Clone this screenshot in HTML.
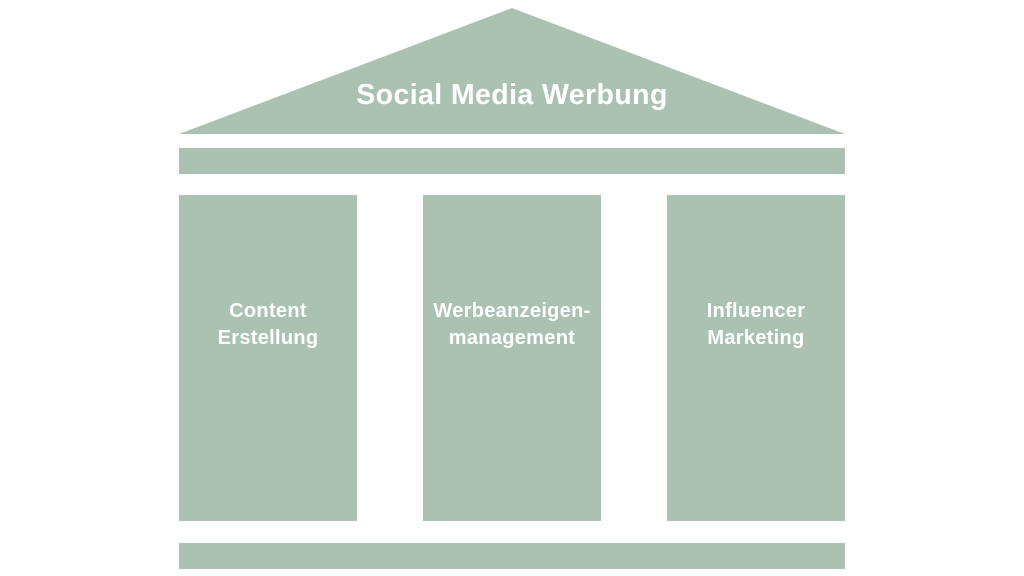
<!DOCTYPE html>
<html><head><style>
body{margin:0;width:1024px;height:576px;background:#fff;position:relative;overflow:hidden;font-family:"Liberation Sans",sans-serif}
.b{position:absolute;background:#abc2b2}
.t{position:absolute;color:#fff;font-weight:bold;text-align:center;font-size:20px;letter-spacing:0.3px;line-height:27px;display:flex;align-items:center;justify-content:center}
</style></head><body>
<svg width="1024" height="576" style="position:absolute;left:0;top:0"><polygon points="512,8 845,134 179,134" fill="#abc2b2"/></svg>
<div class="t" style="left:179px;width:666px;top:77px;height:36px;font-size:28.5px;letter-spacing:0.4px">Social Media Werbung</div>
<div class="b" style="left:179px;top:148px;width:666px;height:26px"></div>
<div class="b" style="left:179px;top:195px;width:178px;height:326px"></div>
<div class="b" style="left:423px;top:195px;width:178px;height:326px"></div>
<div class="b" style="left:667px;top:195px;width:178px;height:326px"></div>
<div class="b" style="left:179px;top:543px;width:666px;height:26px"></div>
<div class="t" style="left:179px;width:178px;top:298px;height:54px">Content<br>Erstellung</div>
<div class="t" style="left:403px;width:218px;top:298px;height:54px">Werbeanzeigen-<br>management</div>
<div class="t" style="left:667px;width:178px;top:298px;height:54px">Influencer<br>Marketing</div>
</body></html>
